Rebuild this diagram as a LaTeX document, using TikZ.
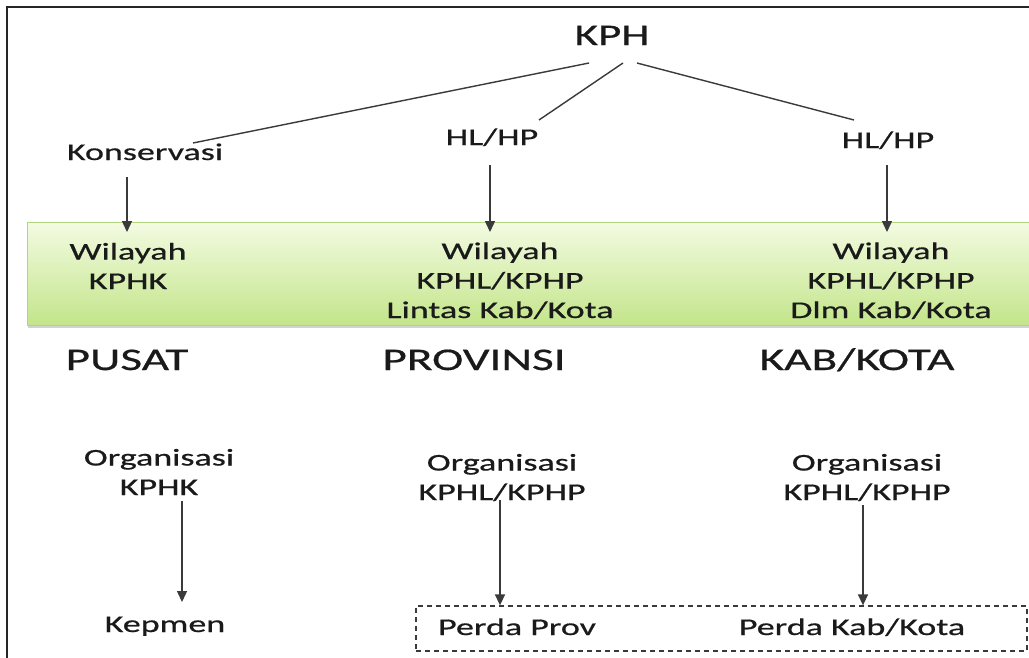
\documentclass[tikz,border=0pt]{standalone}
\usepackage{fontspec}
\setmainfont{Carlito}[FakeStretch=1.5,FakeBold=0.6]
\usetikzlibrary{calc,arrows.meta,shadows}
\definecolor{txt}{HTML}{1A1A1A}
\definecolor{ln}{HTML}{3A3A3A}
\definecolor{bandtop}{HTML}{F3FBE2}
\definecolor{bandbot}{HTML}{C3E58A}
\definecolor{bandedge}{HTML}{B2D67C}
\tikzset{
  lbl/.style={font=\fontsize{24}{29.5}\selectfont, text=txt, inner sep=0pt, align=center, anchor=base},
  big/.style={font=\fontsize{31.5}{36}\selectfont, text=txt, inner sep=0pt, anchor=base},
  tie/.style={draw=ln, line width=1.4pt},
  arr/.style={draw=ln, line width=1.4pt, -{Triangle[length=11pt,width=10pt]}},
  band/.style={top color=bandtop, bottom color=bandbot, draw=bandedge, line width=0.8pt,
    drop shadow={shadow xshift=1pt, shadow yshift=-3pt, opacity=0.35}},
  perdabox/.style={draw=ln, line width=1.3pt, dash pattern=on 5pt off 4pt, inner sep=0pt}
}
\begin{document}
\begin{tikzpicture}[x=1pt,y=-1pt]
\useasboundingbox[fill=white] (0,0) rectangle (1029,657);
% frame
\draw[line width=2pt, draw=black!85] (7,665) -- (7,7) -- (1040,7);
% green band
\path[band] (27,222) rectangle (1040,325);
% top level
\node[lbl, font=\fontsize{30}{36}\selectfont] (kph) at (612,45) {KPH};
\node[lbl] (kons) at (145,160) {Konservasi};
\node[lbl] (hl1) at (492,145) {HL/HP};
\node[lbl] (hl2) at (888,148) {HL/HP};
\draw[tie] ($(kph.base)+(-23,18)$) -- ($(kons.base)+(48,-17)$);
\draw[tie] ($(kph.base)+(11,18)$) -- ($(hl1.base)+(47,-25)$);
\draw[tie] ($(kph.base)+(25,18)$) -- ($(hl2.base)+(-34,-28)$);
% wilayah (base = baseline of last line)
\node[lbl] (w1) at (128,289) {Wilayah\\KPHK};
\node[lbl] (w2) at (500,318) {Wilayah\\KPHL/KPHP\\Lintas Kab/Kota};
\node[lbl] (w3) at (891,318) {Wilayah\\KPHL/KPHP\\Dlm Kab/Kota};
\draw[arr] ($(kons.base)+(-18,17)$) -- (127,232);
\draw[arr] ($(hl1.base)+(-2,20)$) -- (490,232);
\draw[arr] ($(hl2.base)+(-1,17)$) -- (887,232);
% levels
\node[big] (pusat) at (127,370) {PUSAT};
\node[big] (prov) at (474,370) {PROVINSI};
\node[big] (kab) at (857,370) {KAB/KOTA};
% organisasi
\node[lbl] (o1) at (159,495) {Organisasi\\KPHK};
\node[lbl] (o2) at (502,500) {Organisasi\\KPHL/KPHP};
\node[lbl] (o3) at (867,500) {Organisasi\\KPHL/KPHP};
\node[lbl] (kep) at (165,632) {Kepmen};
\node[perdabox, minimum width=611pt, minimum height=45pt] (pbox) at (721.5,628.5) {};
\node[lbl] (pprov) at (517,635) {Perda Prov};
\node[lbl] (pkab) at (852,635) {Perda Kab/Kota};
\draw[arr] ($(o1.base)+(23,6)$) -- ($(kep.base)+(17,-30)$);
\draw[arr] ($(o2.base)+(-2,0)$) -- (pbox.north -| 500,0);
\draw[arr] ($(o3.base)+(-4,5)$) -- (pbox.north -| 863,0);
\end{tikzpicture}
\end{document}
